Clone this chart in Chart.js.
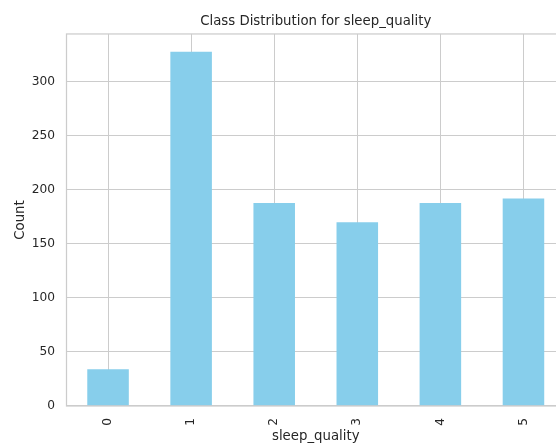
<!DOCTYPE html>
<html>
<head>
<meta charset="utf-8">
<title>Class Distribution for sleep_quality</title>
<script src="https://cdn.jsdelivr.net/npm/chart.js@4.4.1/dist/chart.umd.min.js"></script>
<style>
  html, body { margin: 0; padding: 0; background: #fff; overflow: hidden; }
  #class-chart { display: block; }
</style>
</head>
<body>
<canvas id="class-chart" width="566" height="443"></canvas>
<script>
/* Data
=============================================================== */

const classLabels = ['0', '1', '2', '3', '4', '5']
const classCounts = [34, 328, 188, 170, 188, 192]
const countTicks = [0, 50, 100, 150, 200, 250, 300]

/* Styling
=============================================================== */

const fontFamily = '"DejaVu Sans", "Liberation Sans", sans-serif'
const textColor = '#262626'
const gridColor = '#cccccc'
const barColor = '#87ceeb'

// matplotlib leaves 5% headroom above the tallest bar
const yMax = Math.max(...classCounts) * 1.05

// Draws the box round the plot area, like the axes spines
const spinePlugin = {
  id: 'spines',
  afterDatasetsDraw(chart) {
    const { ctx, chartArea } = chart
    ctx.save()
    ctx.strokeStyle = gridColor
    ctx.lineWidth = 1.25
    ctx.strokeRect(chartArea.left, chartArea.top, chartArea.right - chartArea.left, chartArea.bottom - chartArea.top)
    ctx.restore()
  }
}

/* Chart
=============================================================== */

const classCanvas = document.getElementById('class-chart')

const classData = {
  labels: classLabels,
  datasets: [
    {
      data: classCounts,
      backgroundColor: barColor,
      borderWidth: 0,
      barPercentage: 0.5,
      categoryPercentage: 1.0
    }
  ]
}

const classOptions = {
  responsive: false,
  animation: false,
  layout: {
    padding: { left: 0, right: 1, top: 0, bottom: 0 }
  },
  scales: {
    x: {
      grid: { offset: false, color: gridColor, lineWidth: 1, drawTicks: false },
      border: { display: false },
      ticks: {
        minRotation: 90,
        maxRotation: 90,
        padding: 12,
        color: textColor,
        font: { family: fontFamily, size: 12.2 }
      },
      title: {
        display: true,
        text: 'sleep_quality',
        color: textColor,
        padding: 0,
        font: { family: fontFamily, size: 13.3, lineHeight: 1 }
      },
      afterFit: (scale) => {
        scale.height = 37
      }
    },
    y: {
      min: 0,
      max: yMax,
      grid: { color: gridColor, lineWidth: 1, drawTicks: false },
      border: { display: false },
      ticks: {
        includeBounds: false,
        padding: 11.5,
        color: textColor,
        font: { family: fontFamily, size: 12.2 }
      },
      afterBuildTicks: (scale) => {
        scale.ticks = countTicks.map((value) => ({ value }))
      },
      title: {
        display: true,
        text: 'Count',
        color: textColor,
        padding: { top: 14, bottom: 0 },
        font: { family: fontFamily, size: 13.3, lineHeight: 1 }
      },
      afterFit: (scale) => {
        scale.width = 66.5
      }
    }
  },
  plugins: {
    legend: { display: false },
    tooltip: { enabled: false },
    title: {
      display: true,
      fullSize: false,
      text: 'Class Distribution for sleep_quality',
      color: textColor,
      padding: { top: 14, bottom: 4 },
      font: { family: fontFamily, size: 13.3, weight: 'normal', lineHeight: 1.2 }
    }
  }
}

const classChart = new Chart(classCanvas, {
  type: 'bar',
  data: classData,
  options: classOptions,
  plugins: [spinePlugin]
})
</script>
</body>
</html>
